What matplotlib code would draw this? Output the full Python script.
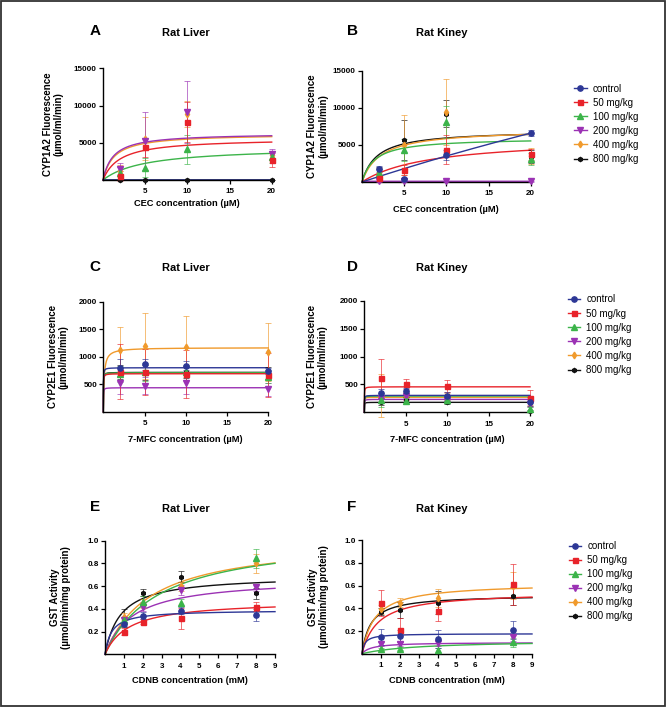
import numpy as np
import matplotlib
matplotlib.use("Agg")
import matplotlib.pyplot as plt
from matplotlib.patches import Rectangle

plt.rcParams['font.family'] = ['Liberation Sans', 'DejaVu Sans']

W, H = 672, 708

groups = ['control', '50 mg/kg', '100 mg/kg', '200 mg/kg', '400 mg/kg', '800 mg/kg']
colors = ['#2d3796', '#e8232a', '#3cb44a', '#9b32b4', '#f09a2c', '#111111']
markers = ['o', 's', '^', 'v', 'd', 'h']
msizes = [3.8, 3.6, 3.8, 3.8, 3.4, 3.0]

x_cyp = [2, 5, 10, 20]
x_gst = [1, 2, 4, 8]
nan = float('nan')

# A: rat liver CYP1A2 (control not shown)
a_mean = [[nan, nan, nan, nan], [540, 4390, 7790, 2690], [1000, 1650, 4120, 3130],
          [1440, 5190, 9170, 3450], [1200, 5550, 8860, 3300], [0, 0, 0, 0]]
a_sd = [[0, 0, 0, 0], [700, 1300, 2700, 900], [800, 1300, 1950, 800],
        [900, 3900, 4150, 650], [800, 2900, 1700, 600], [0, 0, 0, 0]]
a_vmax = [0, 5600, 4470, 6300, 6200, 0]
a_km = [1, 2, 5, 1.2, 1.3, 1]

# B: rat kidney CYP1A2
b_mean = [[1740, 400, 3610, 6600], [490, 1600, 4380, 3710], [1200, 4280, 8080, 3080],
          [100, 100, 100, 100], [1200, 5000, 9420, 3500], [1300, 5620, 9200, 3400]]
b_sd = [[400, 200, 700, 450], [300, 700, 1900, 800], [600, 1500, 2200, 800],
        [50, 50, 50, 50], [700, 4000, 4400, 1100], [700, 2700, 1800, 900]]
b_vmax = [56000, 6000, 5950, 100, 7130, 7000]
b_km = [150, 8, 1.5, 0.01, 2.2, 1.8]

# C: rat liver CYP2E1
c_mean = [[800, 861, 836, 739], [727, 727, 685, 667], [685, 720, 715, 636],
          [515, 473, 515, 406], [1121, 1194, 1182, 1079], [720, 710, 720, 700]]
c_sd = [[150, 100, 80, 60], [500, 420, 430, 400], [150, 160, 140, 120],
        [200, 150, 200, 120], [410, 594, 557, 527], [120, 130, 110, 110]]
c_vmax = [800, 691, 709, 436, 1165, 715]
c_km = [0.01, 0.01, 0.01, 0.01, 0.1, 0.01]

# D: rat kidney CYP2E1
d_mean = [[339, 381, 298, 190], [625, 500, 470, 262], [220, 208, 230, 54],
          [250, 290, 230, 150], [300, 290, 280, 200], [190, 230, 179, 30]]
d_sd = [[80, 60, 70, 80], [325, 90, 110, 140], [130, 50, 50, 40],
        [60, 60, 60, 50], [380, 70, 60, 60], [60, 40, 30, 20]]
d_vmax = [304, 458, 292, 232, 270, 179]
d_km = [0.01] * 6

# E: rat liver GST
e_mean = [[0.267, 0.340, 0.384, 0.346], [0.199, 0.287, 0.316, 0.419], [0.30, 0.463, 0.454, 0.844],
          [0.30, 0.42, 0.566, 0.59], [0.331, 0.45, 0.60, 0.80], [0.316, 0.542, 0.683, 0.536]]
e_sd = [[0.02, 0.03, 0.03, 0.05], [0.03, 0.02, 0.09, 0.04], [0.03, 0.05, 0.03, 0.08],
        [0.03, 0.04, 0.04, 0.03], [0.03, 0.04, 0.04, 0.08], [0.08, 0.03, 0.05, 0.05]]
e_vmax = [0.39, 0.475, 1.055, 0.675, 1.02, 0.695]
e_km = [0.35, 1.26, 2.86, 1.46, 2.41, 0.83]

# F: rat kidney GST
f_mean = [[0.15, 0.156, 0.126, 0.206], [0.45, 0.209, 0.376, 0.612], [0.04, 0.045, 0.03, 0.10],
          [0.085, 0.088, 0.09, 0.144], [0.39, 0.45, 0.488, 0.60], [0.37, 0.385, 0.45, 0.512]]
f_sd = [[0.07, 0.05, 0.08, 0.08], [0.115, 0.11, 0.09, 0.18], [0.01, 0.01, 0.02, 0.04],
        [0.02, 0.02, 0.02, 0.03], [0.04, 0.04, 0.08, 0.12], [0.03, 0.07, 0.1, 0.08]]
f_vmax = [0.177, 0.546, 0.12, 0.10, 0.623, 0.519]
f_km = [0.15, 0.84, 3, 0.5, 0.68, 0.46]

cyp1a2_label = 'CYP1A2 Fluorescence\n(µmol/ml/min)'
cyp2e1_label = 'CYP2E1 Fluorescence\n(µmol/ml/min)'
gst_label = 'GST Activity\n(µmol/min/mg protein)'

fig = plt.figure(figsize=(W / 100, H / 100), dpi=100)


def px_axes(left, top, right, bottom):
    return fig.add_axes([left / W, 1 - bottom / H, (right - left) / W, (bottom - top) / H])


def panel(ax, x, means, sds, vmax, km, xmax, ymax, xticks, yticks, ytl,
          xlabel, ylabel, ylab_x, xlab_y):
    xs = np.linspace(0, xmax, 3000)
    # first group drawn on top
    for i in reversed(range(6)):
        c = colors[i]
        ax.plot(xs, vmax[i] * xs / (km[i] + xs), color=c, lw=1.0,
                zorder=2 + (6 - i) * 0.01, clip_on=False)
        ax.errorbar(x, means[i], yerr=sds[i], fmt='none', ecolor=c, elinewidth=0.6,
                    capsize=2, capthick=0.6, alpha=0.75, zorder=3, clip_on=False)
        ax.plot(x, means[i], linestyle='none', marker=markers[i], ms=msizes[i],
                color=c, zorder=4 + (6 - i) * 0.01, clip_on=False)
    ax.set_xlim(0, xmax)
    ax.set_ylim(0, ymax)
    ax.set_xticks(xticks)
    ax.set_xticklabels([str(t) for t in xticks])
    ax.set_yticks(yticks)
    ax.set_yticklabels(ytl)
    for s in ['top', 'right']:
        ax.spines[s].set_visible(False)
    for s in ['left', 'bottom']:
        ax.spines[s].set_linewidth(1.0)
    ax.tick_params(length=3, width=0.9, labelsize=5.8, pad=1.5)
    ax.tick_params(axis='x', pad=3)
    for lab in ax.get_xticklabels() + ax.get_yticklabels():
        lab.set_fontweight('bold')
    ax.set_xlabel(xlabel, fontsize=6.7, fontweight='bold')
    ax.set_ylabel(ylabel, fontsize=7, fontweight='bold', linespacing=1.1)
    ax.yaxis.set_label_coords(ylab_x, 0.5)
    ax.xaxis.set_label_coords(0.5, xlab_y)


cyp1_ticks = [5000, 10000, 15000]
cyp2_ticks = [500, 1000, 1500, 2000]
gst_ticks = [0.2, 0.4, 0.6, 0.8, 1.0]

axA = px_axes(103, 68.3, 271.7, 180)
panel(axA, x_cyp, a_mean, a_sd, a_vmax, a_km, 20, 15000, [5, 10, 15, 20],
      cyp1_ticks, [str(t) for t in cyp1_ticks], 'CEC concentration (µM)', cyp1a2_label,
      -0.235, -0.17)
axB = px_axes(362, 70.7, 530.7, 182)
panel(axB, x_cyp, b_mean, b_sd, b_vmax, b_km, 20, 15000, [5, 10, 15, 20],
      cyp1_ticks, [str(t) for t in cyp1_ticks], 'CEC concentration (µM)', cyp1a2_label,
      -0.2, -0.207)
axC = px_axes(103.3, 301.7, 268.3, 411.7)
panel(axC, x_cyp, c_mean, c_sd, c_vmax, c_km, 20, 2000, [5, 10, 15, 20],
      cyp2_ticks, [str(t) for t in cyp2_ticks], '7-MFC concentration (µM)', cyp2e1_label,
      -0.21, -0.215)
axD = px_axes(364.3, 301, 530, 412.3)
panel(axD, x_cyp, d_mean, d_sd, d_vmax, d_km, 20, 2000, [5, 10, 15, 20],
      cyp2_ticks, [str(t) for t in cyp2_ticks], '7-MFC concentration (µM)', cyp2e1_label,
      -0.22, -0.207)
axE = px_axes(105, 540.7, 275, 654.3)
panel(axE, x_gst, e_mean, e_sd, e_vmax, e_km, 9, 1.0, list(range(1, 10)),
      gst_ticks, ['%.1f' % t for t in gst_ticks], 'CDNB concentration (mM)', gst_label,
      -0.2, -0.19)
axF = px_axes(362, 540.3, 532, 653.7)
panel(axF, x_gst, f_mean, f_sd, f_vmax, f_km, 9, 1.0, list(range(1, 10)),
      gst_ticks, ['%.1f' % t for t in gst_ticks], 'CDNB concentration (mM)', gst_label,
      -0.195, -0.197)

# panel letters and titles
for letter, lx, tx, ty, title in [('A', 95, 186, 31, 'Rat Liver'), ('B', 352, 442, 31, 'Rat Kiney'),
                                  ('C', 95, 186, 266.5, 'Rat Liver'), ('D', 352, 442, 266.5, 'Rat Kiney'),
                                  ('E', 95, 186, 507, 'Rat Liver'), ('F', 352, 442, 507, 'Rat Kiney')]:
    fig.text(lx / W, 1 - ty / H, letter, fontsize=11, fontweight='bold', ha='center', va='center')
    fig.text(tx / W, 1 - (ty + 1.5) / H, title, fontsize=8, fontweight='bold', ha='center', va='center')

# legends
handles = [plt.Line2D([], [], color=colors[i], marker=markers[i], ms=msizes[i], lw=1.0)
           for i in range(6)]
for lx, ly in [(574, 83.5), (567.5, 294.5), (568.5, 541)]:
    fig.legend(handles, groups, loc='upper left', bbox_to_anchor=(lx / W, 1 - ly / H),
               frameon=False, fontsize=7, borderpad=0, borderaxespad=0,
               handlelength=1.3, handletextpad=0.65, labelspacing=0.42)

fig.patches.append(Rectangle((1 / W, 1 - 706 / H), 664 / W, 705 / H, transform=fig.transFigure,
                             fill=False, edgecolor='#333333', lw=1.3))

fig.savefig('out.png', dpi=100)
